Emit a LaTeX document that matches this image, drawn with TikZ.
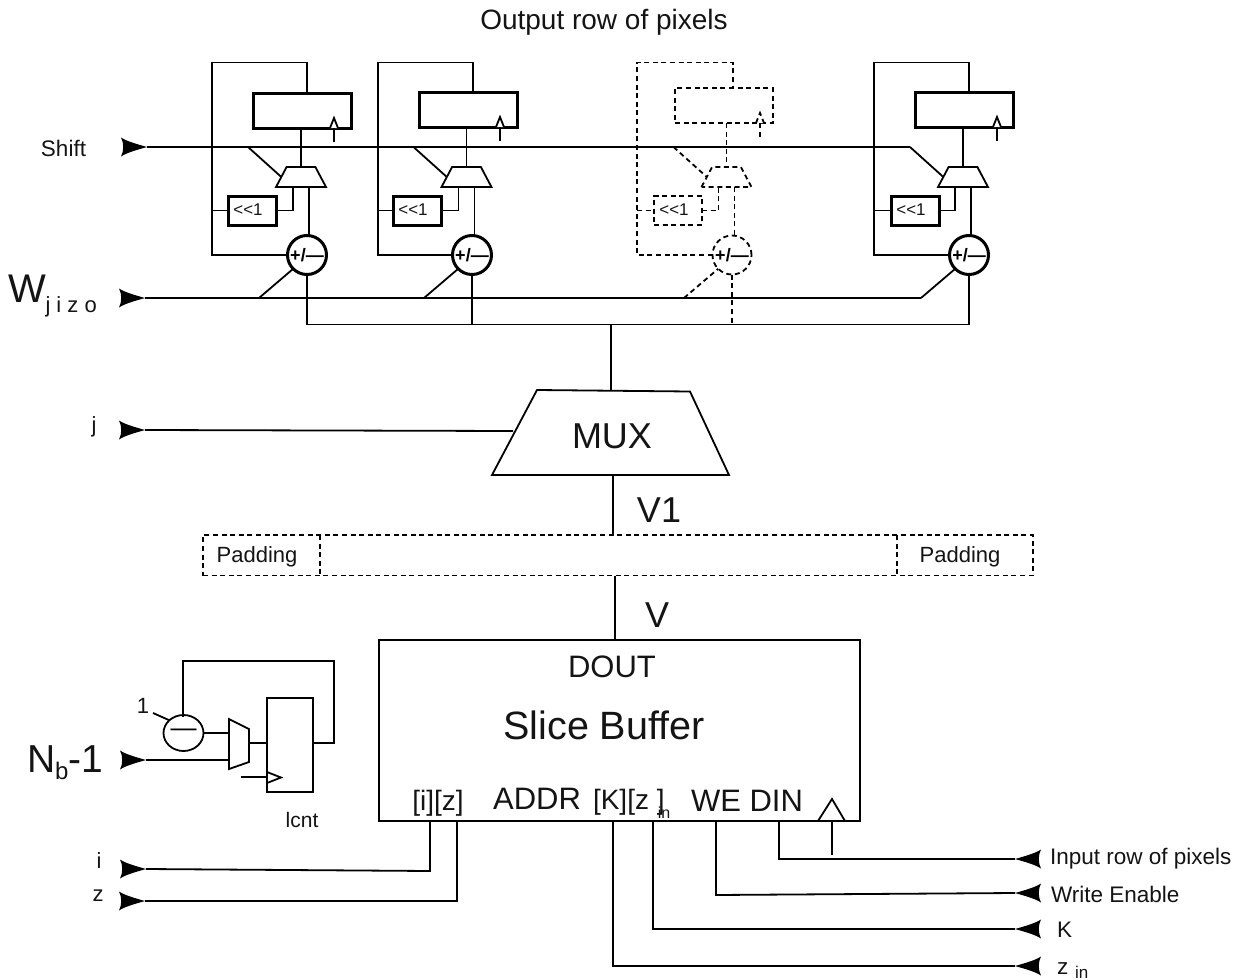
\documentclass[tikz,border=0pt]{standalone}
\usepackage{fontspec}
\setmainfont{Liberation Sans}
\usetikzlibrary{shapes.geometric,calc}
\newcommand\fs[1]{\fontsize{#1bp}{#1bp}\selectfont}
\tikzset{
  x=1bp,y=-1bp,
  wire/.style={line width=1.8bp,line join=miter},
  txt/.style={inner sep=0pt,outer sep=0pt,anchor=base,text=black!92},
  txtl/.style={txt,anchor=base west},
  solidcell/.style={cl/.style={line width=1.8bp},ck/.style={line width=3bp},fineline/.style={line width=1.8bp}},
  dashcell/.style={cl/.style={line width=1.8bp,dash pattern=on 5bp off 3.6bp},
                   ck/.style={line width=1.8bp,dash pattern=on 5bp off 3.6bp},
                   fineline/.style={line width=1.8bp,dash pattern=on 5bp off 3.6bp}},
  regbox/.style={draw,ck,fill=white,rectangle,inner sep=0pt,outer sep=0pt,minimum width=98bp,minimum height=35bp},
  shiftbox/.style={draw,ck,rectangle,inner sep=0pt,outer sep=0pt,minimum width=48bp,minimum height=29bp},
  addbox/.style={draw,ck,fill=white,circle,inner sep=0pt,outer sep=0pt,minimum size=39bp},
  cellmux/.style={draw,fineline,fill=white,trapezium,trapezium stretches=true,inner sep=0pt,outer sep=0pt,
                  minimum width=50bp,minimum height=20bp,trapezium left angle=66,trapezium right angle=66},
  headR/.pic={\fill[black] (0,0) .. controls (-9,-2.6) and (-20,-5.5) .. (-26,-9.5)
      .. controls (-23,-3.5) and (-23,3.5) .. (-26,9.5) .. controls (-20,5.5) and (-9,2.6) .. (0,0) -- cycle;},
  padline/.style={line width=1.2bp,dash pattern=on 5bp off 3.6bp},
}
\newcommand\cellunit[9]{%
\begin{scope}[#2]
  \coordinate (#1fbx) at (#3,0);
  \coordinate (#1apx) at (#4,62.5);
  \coordinate (#1clkx) at (#9,0);
  \coordinate (#1stap) at ([shift={#6}]248,147);
  \coordinate (#1wtap) at ([shift={#8}]259,298);
  \node[regbox] (#1reg) at ([shift={#5}]302,110.5) {};
  \node[shiftbox] (#1box) at ([shift={#7}]252,210.5) {};
  \node[txt] (#1boxt) at ([shift={#7}]248,215.5) {\fs{17}<{}<{}1};
  \node[addbox] (#1add) at ([shift={#8}]307,255) {\fs{18}\bfseries +/—};
  \node[cellmux] (#1mux) at ([shift={#6}]301,177) {\phantom{M}};
  \coordinate (#1muxl) at ([xshift=-8bp]#1mux.south);
  \coordinate (#1muxr) at ([xshift=8bp]#1mux.south);
  \coordinate (#1clk) at (#1reg.south -| #1clkx);
  \draw[cl] (#1add.west) -- (#1add.west -| #1fbx) -- (#1fbx |- #1apx) -- (#1apx) -- (#1apx |- #1reg.north);
  \draw[cl] (#1box.west -| #1fbx) -- (#1box.west);
  \draw[cl] (#1box.east) -- (#1box.east -| #1muxl) -- (#1muxl);
  \draw[cl] (#1muxr) -- (#1muxr |- #1add.north);
  \draw[cl] (#1reg.south -| #1mux.north) -- (#1mux.north);
  \draw[cl] (#1stap) -- (#1mux.west);
  \draw[cl] (#1wtap) -- (#1add.south west);
  \draw[cl,fill=white] ([xshift=-4bp]#1clk) -- ++(4,-10) -- ++(4,10);
  \draw[cl] (#1clk) -- ++(0,14);
  \draw[cl] (#1add.south) -- (#1add.south |- busy);
\end{scope}}
\begin{document}
\begin{tikzpicture}
\useasboundingbox (0,0) rectangle (1241,980);
\fill[white] (0,0) rectangle (1241,980);
\coordinate (busy) at (0,324.5);
\coordinate (busj) at (611,324.5);
% input heads
\coordinate (inshift) at (147,147);
\coordinate (inw) at (145,298);
\coordinate (inj) at (145,430);
\coordinate (innb) at (146,760);
\coordinate (ini) at (146,869);
\coordinate (inz) at (145,901);
\coordinate (indin) at (1015,859);
\coordinate (inwe) at (1015,893);
\coordinate (ink) at (1015,929);
\coordinate (inzin) at (1015,966);
\foreach \p in {inshift,inw,inj,innb,ini,inz} \pic at (\p) {headR};
\foreach \p in {indin,inwe,ink,inzin} \pic[rotate=180] at (\p) {headR};
% cells
\cellunit{a}{solidcell}{212}{307}{(0,0)}{(0,0)}{(0,0)}{(0,0)}{334}
\cellunit{b}{solidcell}{378}{473}{(166,-1)}{(165.5,0)}{(165,0)}{(165,0)}{500}
\cellunit{c}{dashcell}{637}{733}{(422,-5)}{(425.5,0)}{(426,0)}{(425,0)}{760}
\cellunit{d}{solidcell}{874}{969}{(662,-1)}{(662,0)}{(663,0)}{(662,0)}{997}
\draw[wire] (inshift) -- (dstap);
\draw[wire] (inw) -- (dwtap);
\draw[wire] (aadd.south |- busy) -- (dadd.south |- busy);
% main mux
\coordinate (mmtl) at (537,390);
\coordinate (mmtr) at (690,391.5);
\coordinate (mmbr) at (729,475);
\coordinate (mmbl) at (492,475);
\coordinate (mmin) at (611,391);
\coordinate (mmout) at (613,475);
\draw[wire,line join=miter] (mmtl) -- (mmtr) -- (mmbr) -- (mmbl) -- cycle;
\node[txt] (muxt) at (612,448) {\fs{36}MUX};
\coordinate (muxj) at (513,431);
\draw[wire] (busj) -- (mmin);
\draw[wire] (inj) -- (muxj);
% padding row
\node[draw,padline,rectangle,inner sep=0pt,outer sep=0pt,minimum width=830bp,minimum height=40.5bp] (padrow) at (618,555.25) {};
\coordinate (divl) at (320,0);
\coordinate (divr) at (897,0);
\draw[padline] (divl |- padrow.north) -- (divl |- padrow.south);
\draw[padline] (divr |- padrow.north) -- (divr |- padrow.south);
\node[txt] (padlt) at (257,562) {\fs{22}Padding};
\node[txt] (padrt) at (960,562) {\fs{22}Padding};
\draw[wire] (mmout) -- (mmout |- padrow.north);
\node[txt] (vone) at (659,522) {\fs{36}V1};
% slice buffer
\node[draw,wire,rectangle,inner sep=0pt,outer sep=0pt,minimum width=481bp,minimum height=181bp] (buf) at (619.5,730.5) {};
\coordinate (vx) at (615,0);
\draw[wire] (vx |- padrow.south) -- (vx |- buf.north);
\node[txt] (vlab) at (657,627) {\fs{36}V};
\node[txt] (dout) at (612,677) {\fs{31}DOUT};
\node[txt] (bufname) at (604,739) {\fs{39.5}Slice Buffer};
\node[txt] (addri) at (438,810) {\fs{28}[i][z]};
\node[txt] (addr) at (537,809) {\fs{31}ADDR};
\node[txtl] (addrk) at (593,809) {\fs{28}[K][z ]};
\node[txt] (addrin) at (664,818) {\fs{16}in};
\node[txt] (wedin) at (747,811) {\fs{31}WE DIN};
% buffer ports
\coordinate (pi) at (430,0);
\coordinate (pz) at (457,0);
\coordinate (pzin) at (613,0);
\coordinate (pk) at (653,0);
\coordinate (pwe) at (716,0);
\coordinate (pdin) at (779,0);
\coordinate (pclk) at (832,0);
\coordinate (ibend) at (430,871);
\coordinate (webend) at (716,895);
\coordinate (clktip) at (832,799);
\coordinate (clkend) at (832,855);
\draw[wire] (ini) -- (ibend) -- (pi |- buf.south);
\draw[wire] (inz) -- (pz |- inz) -- (pz |- buf.south);
\draw[wire] (inzin) -- (pzin |- inzin) -- (pzin |- buf.south);
\draw[wire] (ink) -- (pk |- ink) -- (pk |- buf.south);
\draw[wire] (inwe) -- (webend) -- (pwe |- buf.south);
\draw[wire] (indin) -- (pdin |- indin) -- (pdin |- buf.south);
\draw[wire] ([xshift=-14bp]pclk |- buf.south) -- (clktip) -- ([xshift=13bp]pclk |- buf.south);
\draw[wire] (pclk |- buf.south) -- (clkend);
% line counter
\node[draw,wire,rectangle,inner sep=0pt,outer sep=0pt,minimum width=46bp,minimum height=94bp] (lcnt) at (290,745) {};
\node[draw,wire,ellipse,inner sep=0pt,outer sep=0pt,minimum width=40bp,minimum height=36bp] (sub) at (183.5,733) {\fs{26}—};
\coordinate (smlt) at (229,719);
\coordinate (smrt) at (249,729);
\coordinate (smrb) at (249,762);
\coordinate (smlb) at (229,769);
\draw[wire] (smlt) -- (smrt) -- (smrb) -- (smlb) -- cycle;
\coordinate (lout) at (313,743);
\coordinate (lcor) at (334,743);
\coordinate (ltop) at (334,661);
\coordinate (ltol) at (183,661);
\coordinate (lend) at (183,717);
\coordinate (lmo) at (249,743);
\coordinate (lin) at (267,743);
\coordinate (lck) at (241,777);
\coordinate (lckb) at (267,777);
\coordinate (lcka) at (267,772);
\coordinate (lckt) at (281,777.5);
\coordinate (lckc) at (267,783);
\draw[wire] (lout) -- (lcor) -- (ltop) -- (ltol) -- (lend);
\draw[wire] (lmo) -- (lin);
\draw[wire] (sub.east) -- (smlt |- sub.east);
\draw[wire] (innb) -- (smlt |- innb);
\draw[wire] (lck) -- (lckb);
\draw[wire] (lcka) -- (lckt) -- (lckc);
\node[txt] (one) at (143,713) {\fs{22}1};
\coordinate (onet) at (153,713);
\draw[wire] (onet) -- (sub.north west);
\node[txt] (lcntt) at (302,827) {\fs{21}lcnt};
% input labels
\node[txt] (outlab) at (604,29) {\fs{28}Output row of pixels};
\node[txt] (shiftt) at (63.5,156) {\fs{22.5}Shift};
\node[txtl] (wt) at (8,302) {\fs{40}W};
\node[txtl] (wsub) at (45.5,312) {\fs{22}j i z o};
\node[txt] (jt) at (94,432) {\fs{22}j};
\node[txtl] (nbt) at (27,772) {\fs{39}N\raisebox{-7bp}{\fs{24}b}-1};
\node[txt] (it) at (99,868) {\fs{22}i};
\node[txt] (zt) at (98,901) {\fs{22}z};
\node[txtl] (dint) at (1050,864) {\fs{22.5}Input row of pixels};
\node[txtl] (wet) at (1051,902) {\fs{22.5}Write Enable};
\node[txtl] (kt) at (1057,937) {\fs{22.5}K};
\node[txtl] (zint) at (1057,974) {\fs{22.5}z};
\node[txtl] (zinsub) at (1075,978) {\fs{17}in};
\end{tikzpicture}
\end{document}
